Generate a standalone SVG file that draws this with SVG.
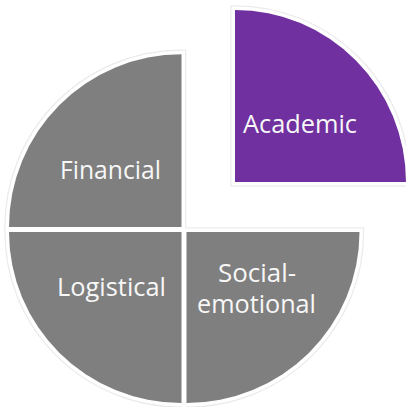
<svg xmlns="http://www.w3.org/2000/svg" width="406" height="407" viewBox="0 0 406 407">
<style>
.halo{fill:none;stroke:#ebebeb;stroke-width:9.5;stroke-linejoin:miter}
.rim{fill:#ffffff;stroke:#ffffff;stroke-width:7;stroke-linejoin:miter}
.grey{fill:#7f7f7f}
.purple{fill:#7030a0}
.lbl{font-family:"Open Sans","Noto Sans","Liberation Sans",sans-serif;font-size:25px;fill:#f7f7f7}
</style>
<defs>
<path id="pF" d="M181.5,227 L9,227 A172.5,172.7 0 0 1 181.5,54.3 Z"/>
<path id="pL" d="M181.5,232 L181.5,403 A172.5,171 0 0 1 9,232 Z"/>
<path id="pS" d="M186.5,232 L359.5,232 A173,171 0 0 1 186.5,403 Z"/>
<path id="pA" d="M235,182 L235,10 A171,172 0 0 1 406,182 Z"/>
</defs>
<rect width="406" height="407" fill="#ffffff"/>
<g id="outlines">
<use href="#pF" class="halo"/><use href="#pL" class="halo"/><use href="#pS" class="halo"/><use href="#pA" class="halo"/>
<use href="#pF" class="rim"/><use href="#pL" class="rim"/><use href="#pS" class="rim"/><use href="#pA" class="rim"/>
</g>
<g id="financial">
<use href="#pF" class="grey"/>
<text class="lbl" x="60" y="178.5" textLength="101" lengthAdjust="spacingAndGlyphs">Financial</text>
</g>
<g id="logistical">
<use href="#pL" class="grey"/>
<text class="lbl" x="57" y="296" textLength="109" lengthAdjust="spacingAndGlyphs">Logistical</text>
</g>
<g id="social-emotional">
<use href="#pS" class="grey"/>
<text class="lbl" x="218" y="281.5" textLength="78" lengthAdjust="spacingAndGlyphs">Social-</text>
<text class="lbl" x="197" y="312.5" textLength="119" lengthAdjust="spacingAndGlyphs">emotional</text>
</g>
<g id="academic">
<use href="#pA" class="purple"/>
<text class="lbl" x="243" y="133" textLength="114" lengthAdjust="spacingAndGlyphs">Academic</text>
</g>
</svg>
